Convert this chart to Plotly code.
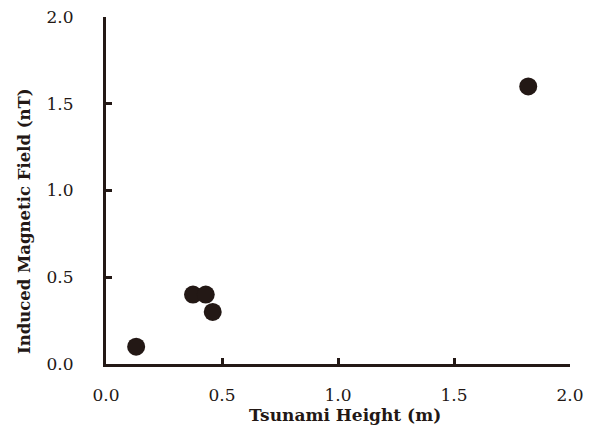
import plotly.graph_objects as go

tsunami_height = [0.13, 0.375, 0.43, 0.46, 1.82]
magnetic_field = [0.10, 0.40, 0.40, 0.30, 1.60]
tick_vals = [0.0, 0.5, 1.0, 1.5, 2.0]
tick_text = ["0.0", "0.5", "1.0", "1.5", "2.0"]
x_title = "Tsunami Height (m)"
y_title = "Induced Magnetic Field (nT)"

ink = "#231815"
font_family = "DejaVu Serif, serif"

fig = go.Figure()
fig.add_trace(go.Scatter(
    x=tsunami_height, y=magnetic_field, mode="markers",
    marker=dict(size=18, color=ink, line=dict(width=0)),
    showlegend=False, cliponaxis=False,
))

axis_common = dict(
    range=[0, 2], tickvals=tick_vals, ticktext=tick_text,
    showgrid=False, zeroline=False, showline=True, linewidth=3, linecolor=ink,
    ticks="inside", ticklen=6, tickwidth=2.5, tickcolor=ink, automargin=False,
    ticklabeloverflow="allow",
    tickfont=dict(family=font_family, size=17, color=ink),
)

fig.update_layout(
    width=592, height=425,
    margin=dict(l=98, r=30, t=9, b=69),
    paper_bgcolor="white", plot_bgcolor="white",
    xaxis=dict(**axis_common, ticklabelstandoff=14),
    yaxis=dict(**axis_common, ticklabelstandoff=26),
    annotations=[
        dict(text="<b>" + x_title + "</b>", xref="paper", yref="paper",
             x=(337 - 98) / 464, y=-39 / 347, xanchor="center", yanchor="top",
             showarrow=False, font=dict(family=font_family, size=17, color=ink)),
        dict(text="<b>" + y_title + "</b>", xref="paper", yref="paper",
             x=(16 - 98) / 464, y=(356 - 213) / 347, xanchor="center", yanchor="middle",
             textangle=-90, showarrow=False,
             font=dict(family=font_family, size=16.5, color=ink)),
    ],
)

fig.write_html("out.html")
